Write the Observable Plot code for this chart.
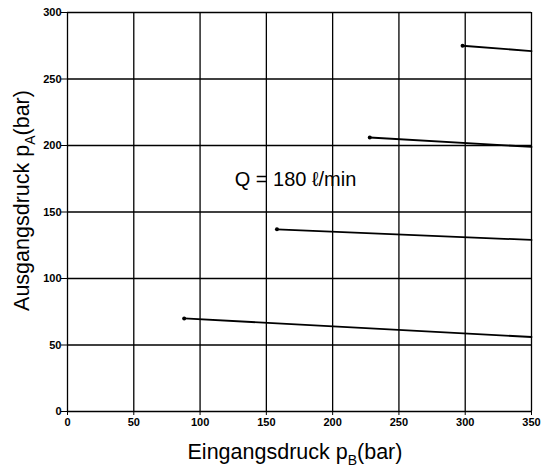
<!DOCTYPE html>
<html>
<head>
<meta charset="utf-8">
<script src="https://cdn.jsdelivr.net/npm/d3@7"></script>
<script src="https://cdn.jsdelivr.net/npm/@observablehq/plot@0.6"></script>
<style>
  html, body { margin: 0; padding: 0; background: #fff; }
  svg { display: block; }
</style>
</head>
<body>
<div id="chart"></div>
<script>
// Data
const curveIds = ["c1", "c2", "c3", "c4"];
const startPressureIn = [88, 158, 228, 298];   // p_B at start of each curve
const startPressureOut = [70, 137, 206, 275];  // p_A at start
const endPressureIn = [350, 350, 350, 350];
const endPressureOut = [56, 129, 199, 271];
const xTicks = [0, 50, 100, 150, 200, 250, 300, 350];
const yTicks = [0, 50, 100, 150, 200, 250, 300];
const annotation = "Q = 180 \u2113/min";
const annotationPos = [172, 174];

const lineData = curveIds.flatMap((id, i) => [
  {id, x: startPressureIn[i], y: startPressureOut[i]},
  {id, x: endPressureIn[i], y: endPressureOut[i]}
]);
const startPts = curveIds.map((id, i) => ({id, x: startPressureIn[i], y: startPressureOut[i]}));

const font = "'Liberation Sans', Arial, sans-serif";

const plot = Plot.plot({
  width: 548,
  height: 467,
  marginLeft: 67,
  marginRight: 17,
  marginTop: 12,
  marginBottom: 56,
  style: {fontFamily: font, background: "#fff", color: "#000"},
  x: {domain: [0, 350]},
  y: {domain: [0, 300]},
  marks: [
    Plot.gridX(xTicks, {stroke: "#000", strokeOpacity: 1, strokeWidth: 1.3}),
    Plot.gridY(yTicks, {stroke: "#000", strokeOpacity: 1, strokeWidth: 1.3}),
    Plot.axisX(xTicks, {tickSize: 4, tickPadding: 3, fontSize: 11, fontWeight: "bold", label: null, stroke: "#000"}),
    Plot.axisY(yTicks, {tickSize: 6, tickPadding: 0, fontSize: 11, fontWeight: "bold", label: null, stroke: "#000"}),
    Plot.line(lineData, {x: "x", y: "y", z: "id", stroke: "#000", strokeWidth: 1.8}),
    Plot.dot(startPts, {x: "x", y: "y", r: 2, fill: "#000"}),
    Plot.text([annotation], {x: () => annotationPos[0], y: () => annotationPos[1], text: d => d, fontSize: 20, fill: "#000"})
  ]
});

const svg = d3.select(plot);
const xs = plot.scale("x"), ys = plot.scale("y");
const cx = (xs.apply(0) + xs.apply(350)) / 2;
const cy = (ys.apply(0) + ys.apply(300)) / 2;

const xl = svg.append("text")
  .attr("x", cx - 4).attr("y", 459)
  .attr("text-anchor", "middle")
  .attr("font-family", font).attr("font-size", 21.5).attr("fill", "#000");
xl.append("tspan").text("Eingangsdruck p");
xl.append("tspan").attr("font-size", 14).attr("dy", 6).text("B");
xl.append("tspan").attr("dy", -6).text("(bar)");

const yl = svg.append("text")
  .attr("transform", `translate(29,${cy - 11}) rotate(-90)`)
  .attr("text-anchor", "middle")
  .attr("font-family", font).attr("font-size", 21.5).attr("fill", "#000");
yl.append("tspan").text("Ausgangsdruck p");
yl.append("tspan").attr("font-size", 14).attr("dy", 6).text("A");
yl.append("tspan").attr("dy", -6).text("(bar)");

document.getElementById("chart").appendChild(plot);
</script>
</body>
</html>
